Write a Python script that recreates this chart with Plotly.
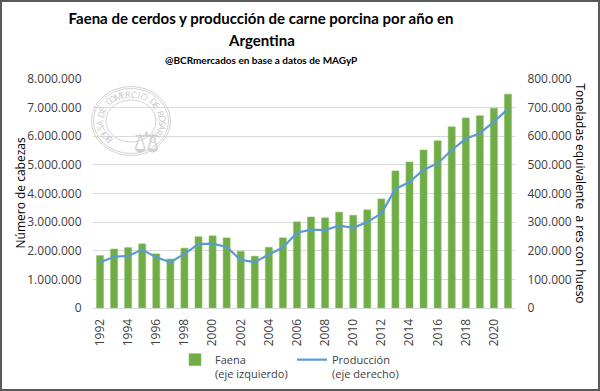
import math
import plotly.graph_objects as go

years = list(range(1992, 2022))
faena = [1830000, 2060000, 2110000, 2240000, 1890000, 1710000, 2090000, 2490000, 2520000, 2450000,
         1980000, 1810000, 2120000, 2450000, 3010000, 3180000, 3150000, 3350000, 3240000, 3430000,
         3810000, 4790000, 5100000, 5520000, 5840000, 6330000, 6640000, 6720000, 6980000, 7470000]
produccion = [160000, 179000, 182000, 204000, 177000, 160000, 189000, 223000, 225000, 213000,
              168000, 160000, 187000, 211000, 263000, 274000, 272000, 288000, 280000, 300000,
              330000, 416000, 440000, 483000, 505000, 552000, 591000, 610000, 651000, 695000]
x_ticks = list(range(1992, 2022, 2))
left_ticks = list(range(0, 8000001, 1000000))
right_ticks = list(range(0, 800001, 100000))

W, H = 600, 391
ML, MR, MT, MB = 93, 85, 79, 83
PW, PH = W - ML - MR, H - MT - MB

def px(x):
    return (x - ML) / PW

def py(y):
    return (H - MB - y) / PH

TXT = "#404040"
BASE_FONT = "Open Sans, Noto Sans, Liberation Sans, sans-serif"
TITLE_FONT = "Lato, Roboto, sans-serif"

fig = go.Figure()
fig.add_trace(go.Bar(
    x=years, y=faena, name="Faena<br>(eje izquierdo)",
    marker=dict(color="#70AD47", line=dict(color="#8CC168", width=0.6)),
    yaxis="y",
))
fig.add_trace(go.Scatter(
    x=years, y=produccion, name="Producción<br>(eje derecho)",
    mode="lines", line=dict(color="#5B9BD5", width=2.2),
    yaxis="y2",
))

shapes = []
# outer border
shapes.append(dict(type="rect", xref="paper", yref="paper",
                   x0=px(1), x1=px(W - 1), y0=py(H - 1), y1=py(1),
                   line=dict(color="#595959", width=2), layer="below"))
# watermark seal
cx, cy = 131, 121
for rx, ry in [(39.5, 34.5), (37.5, 32.5), (25, 21)]:
    shapes.append(dict(type="circle", xref="paper", yref="paper",
                       x0=px(cx - rx), x1=px(cx + rx), y0=py(cy + ry), y1=py(cy - ry),
                       line=dict(color="#D3D3D3", width=1), layer="below"))

annotations = []
seal_text = "BOLSA DE COMERCIO DE ROSARIO"
n = len(seal_text)
for i, ch in enumerate(seal_text):
    if ch == " ":
        continue
    th = 225 - i * 270 / (n - 1)
    r = math.radians(th)
    annotations.append(dict(
        x=px(cx + 31.5 * math.cos(r)), y=py(cy - 27 * math.sin(r)),
        xref="paper", yref="paper", text=ch, showarrow=False,
        textangle=90 - th, font=dict(family=BASE_FONT, size=9, color="#CACACA"),
        xanchor="center", yanchor="middle"))
annotations.append(dict(x=px(cx), y=py(cy + 1), xref="paper", yref="paper", text="⚖",
                        showarrow=False, font=dict(family="DejaVu Sans", size=30, color="#D0D0D0")))

# title line 2 and subtitle
annotations.append(dict(x=px(261), y=py(40), xref="paper", yref="paper",
                        text="<b>Argentina</b>", showarrow=False,
                        font=dict(family=TITLE_FONT, size=15, color="black"),
                        xanchor="center", yanchor="middle"))
annotations.append(dict(x=px(261), y=py(60), xref="paper", yref="paper",
                        text="<b>@BCRmercados en base a datos de MAGyP</b>", showarrow=False,
                        font=dict(family=TITLE_FONT, size=10, color="black"),
                        xanchor="center", yanchor="middle"))
# axis titles
annotations.append(dict(x=px(20), y=0.5, xref="paper", yref="paper", text="Número de cabezas",
                        textangle=-90, showarrow=False,
                        font=dict(family=BASE_FONT, size=12, color="black"),
                        xanchor="center", yanchor="middle"))
annotations.append(dict(x=px(580), y=0.5, xref="paper", yref="paper",
                        text="Toneladas equivalente  a res con hueso",
                        textangle=90, showarrow=False,
                        font=dict(family=BASE_FONT, size=12, color="black"),
                        xanchor="center", yanchor="middle"))

fig.update_layout(
    width=W, height=H,
    margin=dict(l=ML, r=MR, t=MT, b=MB, autoexpand=False),
    paper_bgcolor="white", plot_bgcolor="white",
    separators=",.",
    font=dict(family=BASE_FONT, size=12, color=TXT),
    title=dict(text="<b>Faena de cerdos y producción de carne porcina por año en</b>",
               x=261 / W, xanchor="center", y=1 - 19 / H, yanchor="middle",
               font=dict(family=TITLE_FONT, size=15, color="black")),
    bargap=0.5,
    xaxis=dict(range=[1991.5, 2021.5], tickvals=x_ticks, ticktext=[str(v) for v in x_ticks],
               tickangle=-90, showgrid=False, showline=True, linecolor="#D9D9D9", linewidth=1,
               ticks="outside", ticklen=5, tickcolor="rgba(0,0,0,0)",
               tickfont=dict(family=BASE_FONT, size=12, color=TXT)),
    yaxis=dict(range=[0, 8000000], tickvals=left_ticks, tickformat=",d",
               showgrid=True, gridcolor="#D9D9D9", gridwidth=1, zeroline=False,
               ticks="outside", ticklen=8, tickcolor="rgba(0,0,0,0)",
               tickfont=dict(family=BASE_FONT, size=12, color=TXT)),
    yaxis2=dict(range=[0, 800000], tickvals=right_ticks, tickformat=",d",
                overlaying="y", side="right", showgrid=False, zeroline=False,
                ticks="outside", ticklen=9, tickcolor="rgba(0,0,0,0)",
                tickfont=dict(family=BASE_FONT, size=12, color=TXT)),
    legend=dict(orientation="h", x=px(175), xanchor="left", y=py(346), yanchor="top",
                valign="top", font=dict(family=BASE_FONT, size=11, color=TXT),
                bgcolor="rgba(0,0,0,0)", itemwidth=30, tracegroupgap=0,
                entrywidth=72, entrywidthmode="pixels"),
    shapes=shapes,
    annotations=annotations,
)

fig.write_html("out.html", config={"displayModeBar": False},
               post_script="document.body.style.margin='0';")
